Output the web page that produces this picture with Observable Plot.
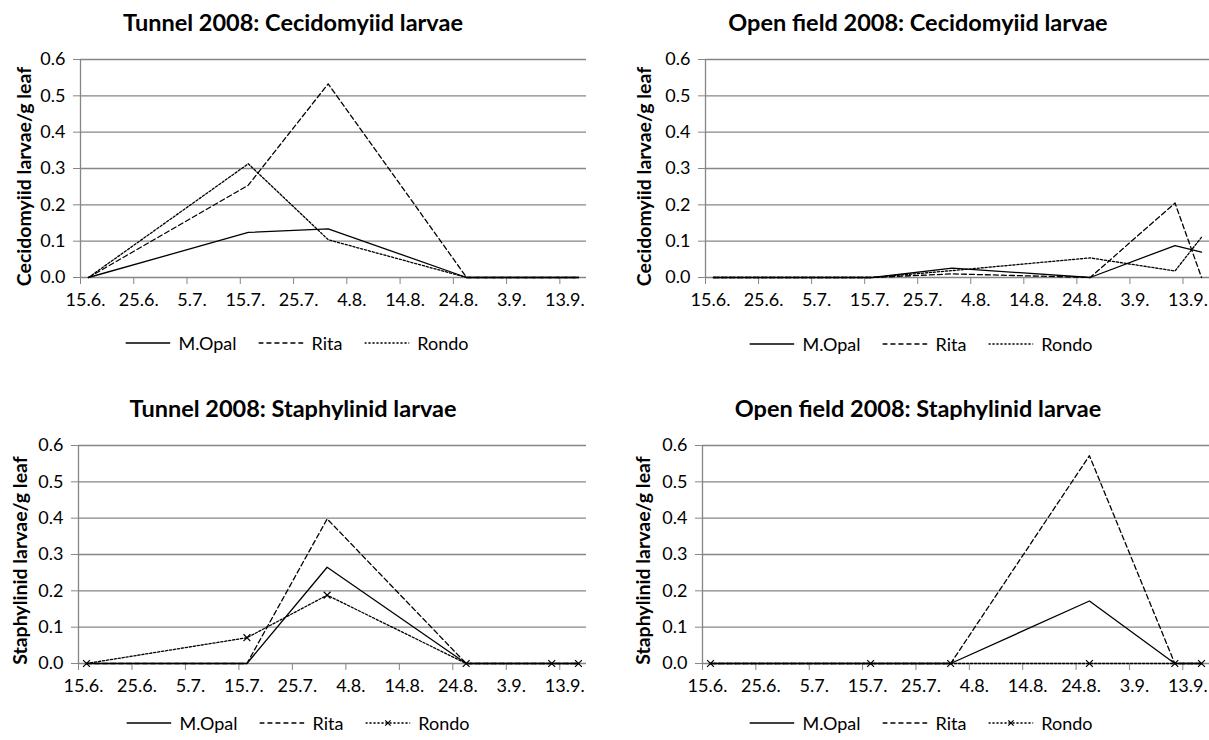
<!DOCTYPE html>
<html>
<head>
<meta charset="utf-8">
<script src="https://cdn.jsdelivr.net/npm/d3@7"></script>
<script src="https://cdn.jsdelivr.net/npm/@observablehq/plot@0.6"></script>
<style>
  body { margin: 0; background: #fff; font-family: Lato, "Open Sans", sans-serif; color: #000; }
  #root { position: relative; width: 1209px; height: 740px; overflow: hidden; background: #fff; }
  .title { position: absolute; font-weight: bold; font-size: 23.5px; transform: translate(-50%, -50%); white-space: nowrap; }
  .panel { position: absolute; }
  .legend { position: absolute; display: flex; align-items: center; transform: translate(-50%, -50%); font-size: 18px; white-space: nowrap; }
  .legend .item { display: flex; align-items: center; margin: 0 11px; }
  .legend svg { margin-right: 8px; }
</style>
</head>
<body>
<div id="root"></div>
<script>
// ---- data ----
const sampleDates = ["2008-06-16", "2008-07-16", "2008-07-31", "2008-08-26", "2008-09-11", "2008-09-16"];
const xTickDates = ["2008-06-15", "2008-06-25", "2008-07-05", "2008-07-15", "2008-07-25", "2008-08-04", "2008-08-14", "2008-08-24", "2008-09-03", "2008-09-13"];
const xDomain = ["2008-06-15", "2008-09-18"];
const yTicks = [0, 0.1, 0.2, 0.3, 0.4, 0.5, 0.6];
const varieties = ["M.Opal", "Rita", "Rondo"];
const titles = ["Tunnel 2008: Cecidomyiid larvae", "Open field 2008: Cecidomyiid larvae", "Tunnel 2008: Staphylinid larvae", "Open field 2008: Staphylinid larvae"];
const yLabels = ["Cecidomyiid larvae/g leaf", "Staphylinid larvae/g leaf"];

const tunnelCecidOpal  = [0, 0.124, 0.134, 0, 0, 0];
const tunnelCecidRita  = [0, 0.254, 0.533, 0, 0, 0];
const tunnelCecidRondo = [0, 0.313, 0.104, 0, 0, 0];

const openCecidOpal  = [0, 0, 0.026, 0, 0.088, 0.070];
const openCecidRita  = [0, 0, 0.010, 0, 0.205, 0];
const openCecidRondo = [0, 0, 0.019, 0.054, 0.018, 0.111];

const tunnelStaphOpal  = [0, 0, 0.265, 0, 0, 0];
const tunnelStaphRita  = [0, 0, 0.398, 0, 0, 0];
const tunnelStaphRondo = [0, 0.071, 0.188, 0, 0, 0];

const openStaphOpal  = [0, 0, 0, 0.172, 0, 0];
const openStaphRita  = [0, 0, 0, 0.572, 0, 0];
const openStaphRondo = [0, 0, 0, 0, 0, 0];

// ---- styles ----
const GRAY = "#868686";
const dashes = {"M.Opal": null, "Rita": "5,3", "Rondo": "2.2,1.8"};
const fmtDate = d => `${d.getUTCDate()}.${d.getUTCMonth() + 1}.`;
const xTicks = xTickDates.map(d => new Date(d + "T00:00:00Z"));
const domain = xDomain.map(d => new Date(d + "T00:00:00Z"));

// Excel places each daily value in the middle of its day slot
function toRows(values, variety) {
  return sampleDates.map((d, i) => ({date: new Date(d + "T12:00:00Z"), value: values[i], variety}));
}

function makePanel(cfg) {
  const marks = [
    Plot.gridY(yTicks, {stroke: GRAY, strokeOpacity: 1, strokeWidth: 1.3}),
    Plot.ruleX([domain[0]], {stroke: GRAY, strokeWidth: 1.3}),
    Plot.axisY(yTicks, {tickFormat: d3.format(".1f"), tickSize: 7, tickPadding: 8, stroke: GRAY, fill: "black", label: null, fontSize: 18}),
    Plot.axisX(xTicks, {tickSize: 7, tickFormat: () => "", stroke: GRAY, label: null}),
    Plot.text(xTicks, {x: d => d, text: fmtDate, frameAnchor: "bottom", dy: 23, dx: 5, fontSize: 18, fill: "black", lineAnchor: "middle"}),
    Plot.text([cfg.yLabel], {frameAnchor: "left", rotate: -90, dx: cfg.yTitleDx, dy: cfg.yTitleDy, fontWeight: "bold", fontSize: 19.5, fill: "black", lineAnchor: "middle", textAnchor: "middle"})
  ];
  cfg.series.forEach(([values, variety]) => {
    const rows = toRows(values, variety);
    marks.push(Plot.line(rows, {x: "date", y: "value", stroke: "black", strokeWidth: 1.3, strokeDasharray: dashes[variety]}));
    if (cfg.markers && variety === "Rondo") {
      marks.push(Plot.dot(rows, {x: "date", y: "value", symbol: "times", r: 3.2, stroke: "black", strokeWidth: 1.2}));
    }
  });
  return Plot.plot({
    width: cfg.width, height: cfg.height,
    marginLeft: cfg.mL, marginRight: cfg.mR, marginTop: cfg.mT, marginBottom: cfg.mB,
    style: {fontFamily: "Lato, 'Open Sans', sans-serif", fontSize: "18px", color: "black", background: "white", overflow: "visible"},
    x: {type: "utc", domain, axis: null},
    y: {domain: [0, 0.6], axis: null},
    marks
  });
}

function makeLegend(markers) {
  const div = document.createElement("div");
  div.className = "legend";
  varieties.forEach(v => {
    const item = document.createElement("div");
    item.className = "item";
    const ns = "http://www.w3.org/2000/svg";
    const svg = document.createElementNS(ns, "svg");
    svg.setAttribute("width", 45); svg.setAttribute("height", 10);
    const line = document.createElementNS(ns, "line");
    line.setAttribute("x1", 0); line.setAttribute("x2", 45);
    line.setAttribute("y1", 5); line.setAttribute("y2", 5);
    line.setAttribute("stroke", "black"); line.setAttribute("stroke-width", 1.3);
    if (dashes[v]) line.setAttribute("stroke-dasharray", dashes[v]);
    svg.appendChild(line);
    if (markers && v === "Rondo") {
      const p = document.createElementNS(ns, "path");
      p.setAttribute("d", "M19.8,2.3L25.2,7.7M19.8,7.7L25.2,2.3");
      p.setAttribute("stroke", "black"); p.setAttribute("stroke-width", 1.2);
      svg.appendChild(p);
    }
    const label = document.createElement("span");
    label.textContent = v;
    item.appendChild(svg); item.appendChild(label);
    div.appendChild(item);
  });
  return div;
}

const root = document.getElementById("root");
const panels = [
  {title: titles[0], tx: 293, ty: 22, lx: 297, ly: 343, left: 0, top: 40, width: 600, height: 280, mL: 80, mR: 14, mT: 19, mB: 43,
   yLabel: yLabels[0], yTitleDx: -56, yTitleDy: 8, markers: false,
   series: [[tunnelCecidOpal, "M.Opal"], [tunnelCecidRita, "Rita"], [tunnelCecidRondo, "Rondo"]]},
  {title: titles[1], tx: 918, ty: 22, lx: 921, ly: 344, left: 600, top: 40, width: 609, height: 280, mL: 105, mR: 0, mT: 19, mB: 43,
   yLabel: yLabels[0], yTitleDx: -61, yTitleDy: 8, markers: false,
   series: [[openCecidOpal, "M.Opal"], [openCecidRita, "Rita"], [openCecidRondo, "Rondo"]]},
  {title: titles[2], tx: 293, ty: 408, lx: 298, ly: 723, left: 0, top: 420, width: 600, height: 280, mL: 78, mR: 14, mT: 25, mB: 37,
   yLabel: yLabels[1], yTitleDx: -58, yTitleDy: 6, markers: true,
   series: [[tunnelStaphOpal, "M.Opal"], [tunnelStaphRita, "Rita"], [tunnelStaphRondo, "Rondo"]]},
  {title: titles[3], tx: 918, ty: 408, lx: 921, ly: 723, left: 600, top: 420, width: 609, height: 280, mL: 102, mR: 0, mT: 25, mB: 37,
   yLabel: yLabels[1], yTitleDx: -59, yTitleDy: 6, markers: true,
   series: [[openStaphOpal, "M.Opal"], [openStaphRita, "Rita"], [openStaphRondo, "Rondo"]]}
];

panels.forEach(cfg => {
  const t = document.createElement("div");
  t.className = "title";
  t.textContent = cfg.title;
  t.style.left = cfg.tx + "px"; t.style.top = cfg.ty + "px";
  root.appendChild(t);

  const wrap = document.createElement("div");
  wrap.className = "panel";
  wrap.style.left = cfg.left + "px"; wrap.style.top = cfg.top + "px";
  wrap.appendChild(makePanel(cfg));
  root.appendChild(wrap);

  const lg = makeLegend(cfg.markers);
  lg.style.left = cfg.lx + "px"; lg.style.top = cfg.ly + "px";
  root.appendChild(lg);
});
</script>
</body>
</html>
